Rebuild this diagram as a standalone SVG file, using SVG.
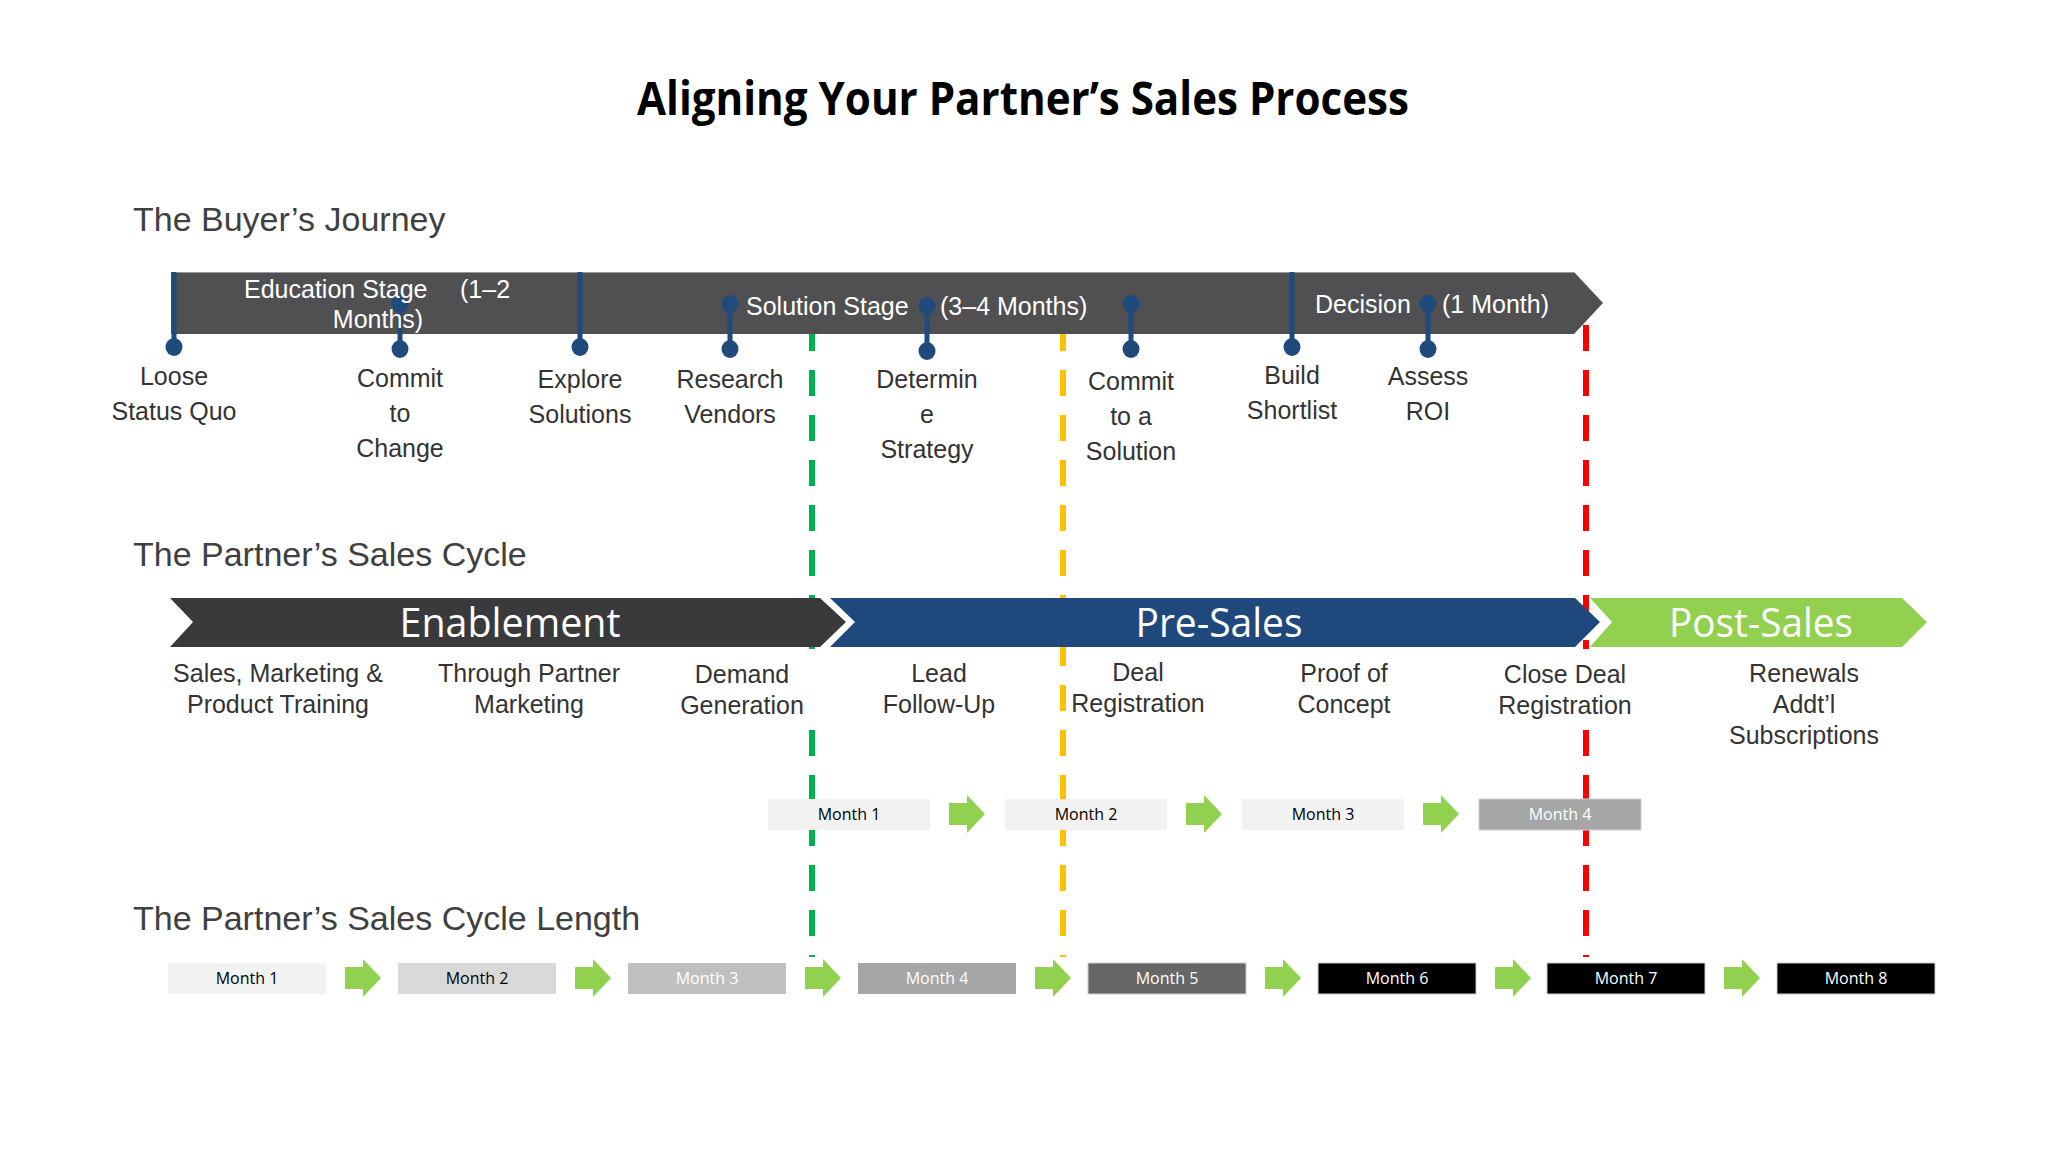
<svg xmlns="http://www.w3.org/2000/svg" xmlns:xlink="http://www.w3.org/1999/xlink" width="2048" height="1152" viewBox="0 0 2048 1152">
<style>
.hdr{font-family:"Liberation Sans",Arial,sans-serif;font-size:34px;fill:#404040}
.lbl{font-family:"Liberation Sans",Arial,sans-serif;font-size:25px;fill:#333333;text-anchor:middle}
.bar{font-family:"Liberation Sans",Arial,sans-serif;font-size:25px;fill:#ffffff}
.chev{font-family:"Open Sans",sans-serif;font-size:40px;fill:#ffffff;text-anchor:middle}
.mth{font-family:"Open Sans",sans-serif;font-size:16px;text-anchor:middle}
.mk{stroke:#1F4A7C;stroke-width:5;fill:none}
.dot{fill:#1F4A7C}
.dash{stroke-width:6;stroke-dasharray:26 19;fill:none}
.garrow{fill:#92D050}
</style>
<defs>
<path id="ga" d="M0,-11 H18 V-19 L36,0 L18,19 V11 H0 Z"/>
</defs>
<rect width="2048" height="1152" fill="#ffffff"/>

<g id="title">
<text x="1023" y="115" text-anchor="middle" font-family="'Open Sans',sans-serif" font-weight="700" font-size="46" textLength="772" lengthAdjust="spacingAndGlyphs" fill="#000000">Aligning Your Partner’s Sales Process</text>
</g>

<g id="section-headers">
<text class="hdr" x="133" y="231">The Buyer’s Journey</text>
<text class="hdr" x="133" y="566">The Partner’s Sales Cycle</text>
<text class="hdr" x="133" y="930">The Partner’s Sales Cycle Length</text>
</g>

<g id="connectors">
<line class="dash" stroke="#00B050" x1="812" y1="325" x2="812" y2="957"/>
<line class="dash" stroke="#FFC000" x1="1063" y1="325" x2="1063" y2="957"/>
<line class="dash" stroke="#FF0000" x1="1586" y1="325" x2="1586" y2="957"/>
</g>

<g id="buyer-journey-bar">
<path d="M171,272 H1574 L1603,303 L1574,334 H171 Z" fill="#505052"/>
<line x1="171" y1="272.5" x2="1574" y2="272.5" stroke="#9a9a9a" stroke-width="1"/>
</g>

<g id="marker-loose-status-quo">
<line class="mk" x1="174" y1="272" x2="174" y2="347"/>
<ellipse class="dot" cx="174" cy="347" rx="8.5" ry="9"/>
<text class="lbl" x="174" y="385">Loose</text>
<text class="lbl" x="174" y="420">Status Quo</text>
</g>
<g id="marker-commit-to-change">
<line class="mk" x1="400" y1="304" x2="400" y2="349"/>
<ellipse class="dot" cx="400" cy="304" rx="8.5" ry="9"/>
<ellipse class="dot" cx="400" cy="349" rx="8.5" ry="9"/>
<text class="lbl" x="400" y="387">Commit</text>
<text class="lbl" x="400" y="422">to</text>
<text class="lbl" x="400" y="457">Change</text>
</g>
<g id="marker-explore-solutions">
<line class="mk" x1="580" y1="272" x2="580" y2="347"/>
<ellipse class="dot" cx="580" cy="347" rx="8.5" ry="9"/>
<text class="lbl" x="580" y="388">Explore</text>
<text class="lbl" x="580" y="423">Solutions</text>
</g>
<g id="marker-research-vendors">
<line class="mk" x1="730" y1="304" x2="730" y2="349"/>
<ellipse class="dot" cx="730" cy="304" rx="8.5" ry="9"/>
<ellipse class="dot" cx="730" cy="349" rx="8.5" ry="9"/>
<text class="lbl" x="730" y="388">Research</text>
<text class="lbl" x="730" y="423">Vendors</text>
</g>
<g id="marker-determine-strategy">
<line class="mk" x1="927" y1="306" x2="927" y2="351"/>
<ellipse class="dot" cx="927" cy="306" rx="8.5" ry="9"/>
<ellipse class="dot" cx="927" cy="351" rx="8.5" ry="9"/>
<text class="lbl" x="927" y="388">Determin</text>
<text class="lbl" x="927" y="423">e</text>
<text class="lbl" x="927" y="458">Strategy</text>
</g>
<g id="marker-commit-to-a-solution">
<line class="mk" x1="1131" y1="304" x2="1131" y2="349"/>
<ellipse class="dot" cx="1131" cy="304" rx="8.5" ry="9"/>
<ellipse class="dot" cx="1131" cy="349" rx="8.5" ry="9"/>
<text class="lbl" x="1131" y="390">Commit</text>
<text class="lbl" x="1131" y="425">to a</text>
<text class="lbl" x="1131" y="460">Solution</text>
</g>
<g id="marker-build-shortlist">
<line class="mk" x1="1292" y1="272" x2="1292" y2="347"/>
<ellipse class="dot" cx="1292" cy="347" rx="8.5" ry="9"/>
<text class="lbl" x="1292" y="384">Build</text>
<text class="lbl" x="1292" y="419">Shortlist</text>
</g>
<g id="marker-assess-roi">
<line class="mk" x1="1428" y1="304" x2="1428" y2="349"/>
<ellipse class="dot" cx="1428" cy="304" rx="8.5" ry="9"/>
<ellipse class="dot" cx="1428" cy="349" rx="8.5" ry="9"/>
<text class="lbl" x="1428" y="385">Assess</text>
<text class="lbl" x="1428" y="420">ROI</text>
</g>

<g id="stage-labels">
<text class="bar" x="244" y="298">Education Stage</text>
<text class="bar" x="460" y="298">(1–2</text>
<text class="bar" x="378" y="328" text-anchor="middle">Months)</text>
<text class="bar" x="746" y="315">Solution Stage</text>
<text class="bar" x="940" y="315">(3–4 Months)</text>
<text class="bar" x="1315" y="313">Decision</text>
<text class="bar" x="1442" y="313">(1 Month)</text>
</g>

<g id="chevron-enablement">
<path d="M170,598 H820 L846,622 L820,647 H170 L193,622 Z" fill="#3A3A3C"/>
<text class="chev" x="510" y="637" textLength="221" lengthAdjust="spacingAndGlyphs">Enablement</text>
</g>
<g id="chevron-pre-sales">
<path d="M830,598 H1575 L1600,622 L1575,647 H830 L855,622 Z" fill="#1F497D"/>
<text class="chev" x="1219" y="637" textLength="167" lengthAdjust="spacingAndGlyphs">Pre-Sales</text>
</g>
<g id="chevron-post-sales">
<path d="M1590,598 H1902 L1927,622 L1902,647 H1590 L1612,622 Z" fill="#92D050"/>
<text class="chev" x="1761" y="637" textLength="184" lengthAdjust="spacingAndGlyphs">Post-Sales</text>
</g>

<g id="cycle-labels">
<rect x="672" y="649" width="150" height="80" fill="#ffffff"/>
<rect x="1490" y="649" width="152" height="80" fill="#ffffff"/>
<text class="lbl" x="278" y="682">Sales, Marketing &amp;</text>
<text class="lbl" x="278" y="713">Product Training</text>
<text class="lbl" x="529" y="682">Through Partner</text>
<text class="lbl" x="529" y="713">Marketing</text>
<text class="lbl" x="742" y="683">Demand</text>
<text class="lbl" x="742" y="714">Generation</text>
<text class="lbl" x="939" y="682">Lead</text>
<text class="lbl" x="939" y="713">Follow-Up</text>
<text class="lbl" x="1138" y="681">Deal</text>
<text class="lbl" x="1138" y="712">Registration</text>
<text class="lbl" x="1344" y="682">Proof of</text>
<text class="lbl" x="1344" y="713">Concept</text>
<text class="lbl" x="1565" y="683">Close Deal</text>
<text class="lbl" x="1565" y="714">Registration</text>
<text class="lbl" x="1804" y="682">Renewals</text>
<text class="lbl" x="1804" y="713">Addt’l</text>
<text class="lbl" x="1804" y="744">Subscriptions</text>
</g>

<g id="cycle-months">
<rect x="768" y="799" width="162" height="31" fill="#F2F2F2"/>
<text class="mth" x="849" y="820" fill="#000">Month 1</text>
<use xlink:href="#ga" href="#ga" class="garrow" x="949" y="814"/>
<rect x="1005" y="799" width="162" height="31" fill="#F2F2F2"/>
<text class="mth" x="1086" y="820" fill="#000">Month 2</text>
<use xlink:href="#ga" href="#ga" class="garrow" x="1186" y="814"/>
<rect x="1242" y="799" width="162" height="31" fill="#F2F2F2"/>
<text class="mth" x="1323" y="820" fill="#000">Month 3</text>
<use xlink:href="#ga" href="#ga" class="garrow" x="1423" y="814"/>
<rect x="1479" y="799" width="162" height="31" fill="#A6A6A6" stroke="#d0d0d0" stroke-width="1"/>
<text class="mth" x="1560" y="820" fill="#fff">Month 4</text>
</g>

<g id="length-months">
<rect x="168" y="963" width="158" height="31" fill="#F2F2F2"/>
<text class="mth" x="247" y="984" fill="#000">Month 1</text>
<use xlink:href="#ga" href="#ga" class="garrow" x="345" y="978"/>
<rect x="398" y="963" width="158" height="31" fill="#D9D9D9"/>
<text class="mth" x="477" y="984" fill="#000">Month 2</text>
<use xlink:href="#ga" href="#ga" class="garrow" x="575" y="978"/>
<rect x="628" y="963" width="158" height="31" fill="#BFBFBF"/>
<text class="mth" x="707" y="984" fill="#fff">Month 3</text>
<use xlink:href="#ga" href="#ga" class="garrow" x="805" y="978"/>
<rect x="858" y="963" width="158" height="31" fill="#A6A6A6"/>
<text class="mth" x="937" y="984" fill="#fff">Month 4</text>
<use xlink:href="#ga" href="#ga" class="garrow" x="1035" y="978"/>
<rect x="1088" y="963" width="158" height="31" fill="#666666" stroke="#cccccc" stroke-width="1"/>
<text class="mth" x="1167" y="984" fill="#fff">Month 5</text>
<use xlink:href="#ga" href="#ga" class="garrow" x="1265" y="978"/>
<rect x="1318" y="963" width="158" height="31" fill="#000000" stroke="#cccccc" stroke-width="1"/>
<text class="mth" x="1397" y="984" fill="#fff">Month 6</text>
<use xlink:href="#ga" href="#ga" class="garrow" x="1495" y="978"/>
<rect x="1547" y="963" width="158" height="31" fill="#000000" stroke="#cccccc" stroke-width="1"/>
<text class="mth" x="1626" y="984" fill="#fff">Month 7</text>
<use xlink:href="#ga" href="#ga" class="garrow" x="1724" y="978"/>
<rect x="1777" y="963" width="158" height="31" fill="#000000" stroke="#cccccc" stroke-width="1"/>
<text class="mth" x="1856" y="984" fill="#fff">Month 8</text>
</g>
</svg>
